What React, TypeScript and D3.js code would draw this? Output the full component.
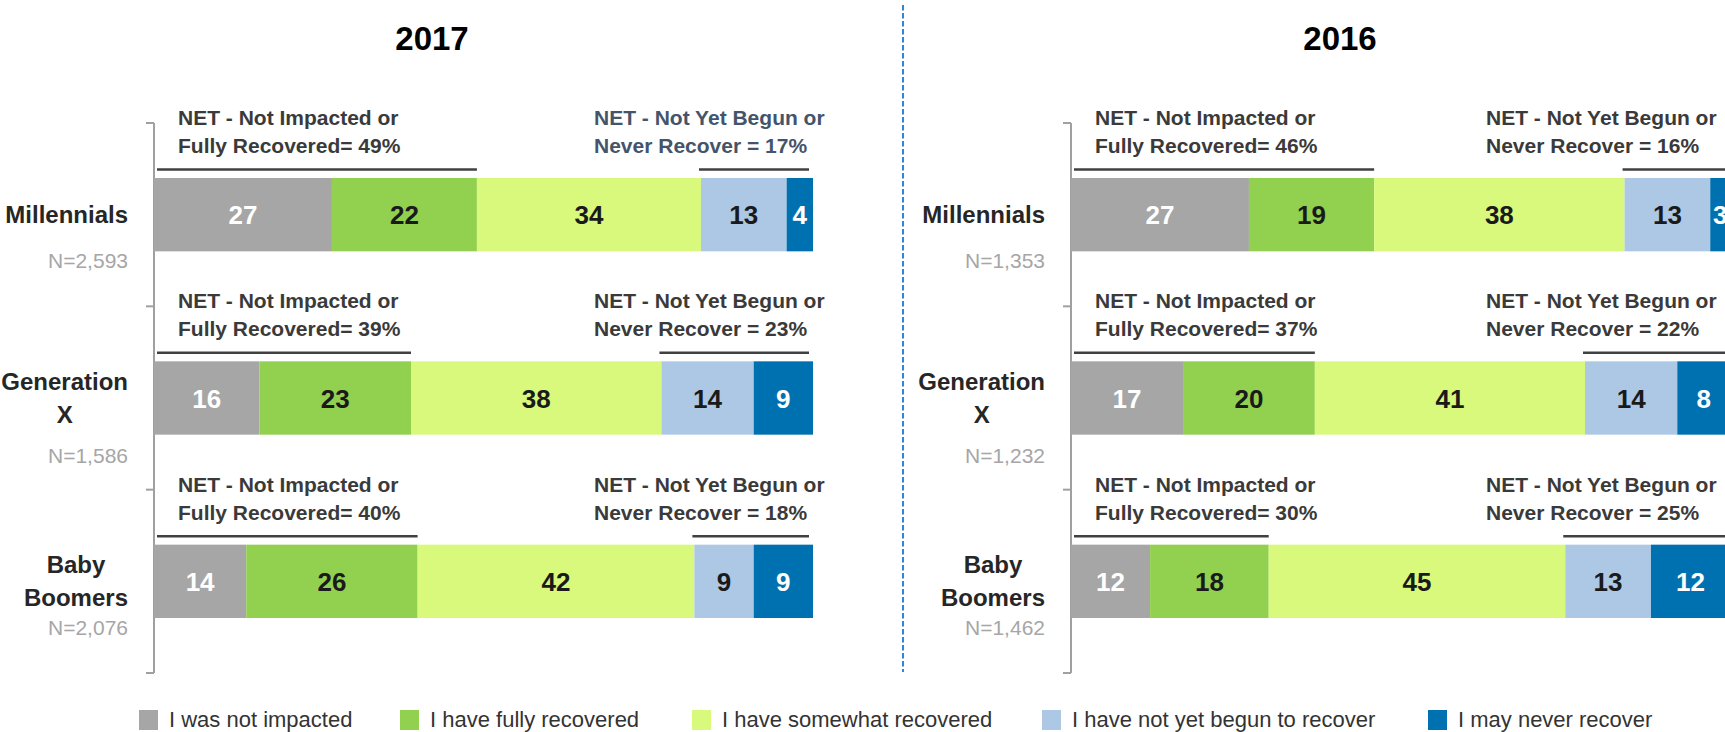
import React from "react";
import * as d3 from "d3";

// ---------- data ----------
const categories = ["Millennials", "Generation X", "Baby Boomers"];
const categoryLines = [["Millennials"], ["Generation", "X"], ["Baby", "Boomers"]];
const panelTitles = ["2017", "2016"];
const sampleSizes2017 = ["N=2,593", "N=1,586", "N=2,076"];
const sampleSizes2016 = ["N=1,353", "N=1,232", "N=1,462"];
const seriesNames = [
  "I was not impacted",
  "I have fully recovered",
  "I have somewhat recovered",
  "I have not yet begun to recover",
  "I may never recover",
];
// 2017
const notImpacted2017 = [27, 16, 14];
const fullyRecovered2017 = [22, 23, 26];
const somewhatRecovered2017 = [34, 38, 42];
const notYetBegun2017 = [13, 14, 9];
const neverRecover2017 = [4, 9, 9];
// 2016
const notImpacted2016 = [27, 17, 12];
const fullyRecovered2016 = [19, 20, 18];
const somewhatRecovered2016 = [38, 41, 45];
const notYetBegun2016 = [13, 14, 13];
const neverRecover2016 = [3, 8, 12];

const netLeftLabel = "NET - Not Impacted or";
const netLeftLabel2 = "Fully Recovered= ";
const netRightLabel = "NET - Not Yet Begun or";
const netRightLabel2 = "Never Recover = ";

// ---------- styles ----------
const colors = ["#a6a6a6", "#92d050", "#d8f97c", "#adc8e4", "#0071b0"];
const valueColors = ["#ffffff", "#1a1a1a", "#1a1a1a", "#1a1a1a", "#ffffff"];
const FONT = "'Liberation Sans', Arial, sans-serif";

const panels = [
  {
    title: panelTitles[0],
    n: sampleSizes2017,
    series: [notImpacted2017, fullyRecovered2017, somewhatRecovered2017, notYetBegun2017, neverRecover2017],
    axisX: 154,
    titleX: 432,
    netRightX: 594,
  },
  {
    title: panelTitles[1],
    n: sampleSizes2016,
    series: [notImpacted2016, fullyRecovered2016, somewhatRecovered2016, notYetBegun2016, neverRecover2016],
    axisX: 1071,
    titleX: 1340,
    netRightX: 1486,
  },
];

const BAR_LEN = 659;
const AXIS_TOP = 123;
const AXIS_BOTTOM = 673;
const nOffsets = [53, 65, 54];
const legendX = [139, 400, 692, 1042, 1428];

let _ctx: CanvasRenderingContext2D | null = null;
function measure(text: string, font: string) {
  if (!_ctx) _ctx = document.createElement("canvas").getContext("2d");
  if (!_ctx) return text.length * 12;
  _ctx.font = font;
  return _ctx.measureText(text).width;
}

function Panel({ p }: { p: (typeof panels)[number] }) {
  const x = d3.scaleLinear().domain([0, 100]).range([p.axisX, p.axisX + BAR_LEN]);
  const y = d3
    .scaleBand<string>()
    .domain(categories)
    .range([AXIS_TOP, AXIS_BOTTOM])
    .paddingInner(0.6)
    .paddingOuter(0.3);
  const step = y.step();
  const bw = y.bandwidth();
  const tickYs = d3.range(categories.length + 1).map((i) => AXIS_TOP + i * step);
  const labelRight = p.axisX - 26;

  return (
    <g>
      <text x={p.titleX} y={50} textAnchor="middle" fontFamily={FONT} fontWeight="bold" fontSize={33} fill="#000">
        {p.title}
      </text>
      {/* axis */}
      <line x1={p.axisX} x2={p.axisX} y1={AXIS_TOP} y2={AXIS_BOTTOM} stroke="#a0a0a0" strokeWidth={2} />
      {tickYs.map((ty, i) => (
        <line key={i} x1={p.axisX - 8} x2={p.axisX} y1={ty} y2={ty} stroke="#a0a0a0" strokeWidth={2} />
      ))}
      {categories.map((cat, ci) => {
        const top = y(cat)!;
        const cy = top + bw / 2;
        const vals = p.series.map((s) => s[ci]);
        const cum = d3.cumsum(vals);
        const starts = vals.map((v, i) => cum[i] - v);
        const net1 = vals[0] + vals[1];
        const net2 = vals[3] + vals[4];
        const lines = categoryLines[ci];
        const catFont = `bold 24px ${FONT}`;
        const maxW = d3.max(lines, (l) => measure(l, catFont)) || 0;
        const lineH = 33;
        const netColorRight = p.title === "2017" && ci === 0 ? "#44546a" : "#3a3a3a";
        return (
          <g key={cat}>
            {/* category labels */}
            {lines.map((l, li) => (
              <text
                key={li}
                x={labelRight - maxW / 2}
                y={cy + 8.6 + (li - (lines.length - 1) / 2) * lineH}
                textAnchor="middle"
                fontFamily={FONT}
                fontWeight="bold"
                fontSize={24}
                fill="#262626"
              >
                {l}
              </text>
            ))}
            <text x={labelRight} y={cy + nOffsets[ci]} textAnchor="end" fontFamily={FONT} fontSize={21} fill="#a6a6a6">
              {p.n[ci]}
            </text>
            {/* bar segments */}
            {vals.map((v, si) => (
              <rect key={si} x={x(starts[si])} y={top} width={x(v) - x(0)} height={bw} fill={colors[si]} />
            ))}
            {vals.map((v, si) => (
              <text
                key={"t" + si}
                x={x(starts[si] + v / 2)}
                y={cy + 9.5}
                textAnchor="middle"
                fontFamily={FONT}
                fontWeight="bold"
                fontSize={26}
                fill={valueColors[si]}
              >
                {v}
              </text>
            ))}
            {/* NET brackets */}
            <line x1={p.axisX + 3} x2={x(net1)} y1={top - 8.5} y2={top - 8.5} stroke="#404040" strokeWidth={2.5} />
            <line x1={x(100 - net2) - 2} x2={x(100) - 4} y1={top - 8.5} y2={top - 8.5} stroke="#404040" strokeWidth={2.5} />
            <text x={p.axisX + 24} y={top - 53} fontFamily={FONT} fontWeight="bold" fontSize={21} fill="#3a3a3a">
              {netLeftLabel}
            </text>
            <text x={p.axisX + 24} y={top - 25} fontFamily={FONT} fontWeight="bold" fontSize={21} fill="#3a3a3a">
              {netLeftLabel2 + net1 + "%"}
            </text>
            <text x={p.netRightX} y={top - 53} fontFamily={FONT} fontWeight="bold" fontSize={21} fill={netColorRight}>
              {netRightLabel}
            </text>
            <text x={p.netRightX} y={top - 25} fontFamily={FONT} fontWeight="bold" fontSize={21} fill={netColorRight}>
              {netRightLabel2 + net2 + "%"}
            </text>
          </g>
        );
      })}
    </g>
  );
}

export default function App() {
  return (
    <svg
      width={1725}
      height={732}
      viewBox="0 0 1725 732"
      style={{ position: "absolute", left: 0, top: 0, background: "#fff" }}
    >
      <rect x={0} y={0} width={1725} height={732} fill="#fff" />
      <line x1={903} x2={903} y1={5} y2={672} stroke="#2f86d2" strokeWidth={2} strokeDasharray="5.5 2.5" />
      {panels.map((p) => (
        <Panel key={p.title} p={p} />
      ))}
      {seriesNames.map((name, i) => (
        <g key={name}>
          <rect x={legendX[i]} y={710} width={19} height={20} fill={colors[i]} />
          <text x={legendX[i] + 30} y={727} fontFamily={FONT} fontSize={22} fill="#333">
            {name}
          </text>
        </g>
      ))}
    </svg>
  );
}
